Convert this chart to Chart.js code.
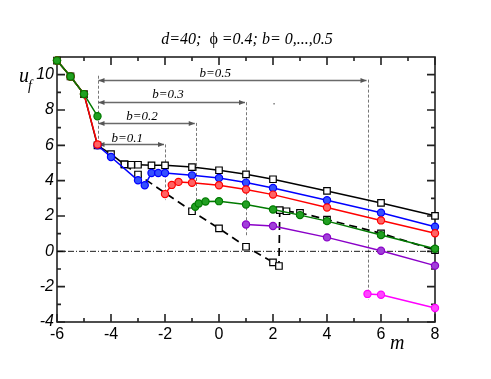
<!doctype html>
<html lang="en">
<head>
<meta charset="UTF-8">
<title>u_f against m</title>
<script src="https://cdn.jsdelivr.net/npm/chart.js"></script>
<style>
  html, body { margin: 0; padding: 0; background: #fff; }
</style>
</head>
<body>
<canvas id="chart" width="491" height="379"></canvas>
<script>
// values: m on x, u_f on y
const blackM = [-6, -5.5, -5, -4.5, -4, -3.5, -3.25, -3, -2.5, -2, -1, 0, 1, 2, 4, 6, 8];
const blackU = [10.8, 9.9, 8.9, 6.0, 5.5, 4.92, 4.9, 4.9, 4.87, 4.87, 4.77, 4.59, 4.36, 4.08, 3.42, 2.74, 2.01];

const dashM = [-3.5, -3, -1, 0, 1, 2, 2.22, 2.25, 2.5, 3, 4, 6, 8];
const dashU = [4.92, 4.35, 2.27, 1.3, 0.26, -0.62, -0.83, 2.33, 2.27, 2.18, 1.8, 1.02, 0.07];

const blueM = [-4.5, -4, -3, -2.75, -2.5, -2.25, -2, -1, 0, 1, 2, 4, 6, 8];
const blueU = [6.0, 5.34, 4.02, 3.74, 4.43, 4.43, 4.43, 4.3, 4.15, 3.89, 3.59, 2.89, 2.18, 1.39];

const redM = [-6, -5.5, -5, -4.5, -3, -2, -1.75, -1.5, -1, 0, 1, 2, 4, 6, 8];
const redU = [10.8, 9.9, 8.9, 6.05, null, 3.24, 3.76, 3.93, 3.88, 3.74, 3.5, 3.21, 2.48, 1.75, 1.02];

const greenM = [-6, -5.5, -5, -4.5, -2, -0.88, -0.75, -0.5, 0, 1, 2, 3, 4, 6, 8];
const greenU = [10.8, 9.9, 8.9, 7.65, null, 2.52, 2.71, 2.82, 2.84, 2.65, 2.37, 2.05, 1.71, 0.92, 0.15];

const purpleM = [1, 2, 4, 6, 8];
const purpleU = [1.52, 1.43, 0.79, 0.03, -0.81];

const magentaM = [5.5, 6, 8];
const magentaU = [-2.41, -2.46, -3.21];

// threshold arrows b=0.1 ... 0.5, all starting from m=-4.5
const bNames = ['b=0.1', 'b=0.2', 'b=0.3', 'b=0.5'];
const bStartM = -4.5;
const bEndM = [-2, -0.86, 1, 5.5];
const bArrowU = [6.05, 7.27, 8.44, 9.72];
const bLabelM = [-3.4, -2.85, -1.89, -0.14];
const bLabelU = [6.4, 7.63, 8.86, 10.07];

// dotted guide lines
const guideM = [-4.5, -2, -0.86, 1, 5.5];
const guideTop = [9.94, 6.05, 7.27, 8.44, 9.72];
const guideBottom = [5.7, 2.9, 2.4, 0.9, -2.75];

const xTicks = [-6, -4, -2, 0, 2, 4, 6, 8];
const xMinor = [-5, -3, -1, 1, 3, 5, 7];
const yTicks = [-4, -2, 0, 2, 4, 6, 8, 10];
const yMinor = [-3, -1, 1, 3, 5, 7, 9];

const pts = (ms, us) => ms.map((m, i) => ({x: m, y: us[i]}));

function circles(label, ms, us, line, fill) {
    return {
        label, data: pts(ms, us),
        borderColor: line, borderWidth: 1.5,
        pointStyle: 'circle', pointRadius: 3.6, pointBorderWidth: 1.2,
        pointBackgroundColor: fill, pointBorderColor: line,
        spanGaps: false, clip: false
    };
}

const datasets = [
    circles('b=0.1 top', greenM.slice(0, 3), greenU.slice(0, 3), '#007a00', '#22a022'),
    circles('red', redM, redU, '#ff0000', '#ff6464'),
    circles('green', greenM, greenU, '#007a00', '#22a022'),
    circles('purple', purpleM, purpleU, '#8a00c8', '#a040d8'),
    circles('magenta', magentaM, magentaU, '#ff00ff', '#ff44ff'),
    circles('blue', blueM, blueU, '#0000ff', '#3450ff'),
    {
        label: 'black', data: pts(blackM, blackU),
        borderColor: '#000', borderWidth: 1.5,
        pointStyle: 'rect', pointRadius: 4.6, pointBorderWidth: 1.2,
        pointBackgroundColor: '#fff', pointBorderColor: '#000', clip: false
    },
    {
        label: 'black dashed', data: pts(dashM, dashU),
        borderColor: '#000', borderWidth: 1.7, borderDash: [8, 5],
        pointStyle: 'rect', pointRadius: 4.6, pointBorderWidth: 1.2,
        pointBackgroundColor: '#fff', pointBorderColor: '#000', clip: false
    },
    {
        label: 'zero', data: pts([-6, 8], [0, 0]),
        borderColor: '#000', borderWidth: 0.9, borderDash: [6, 2, 1, 2],
        pointRadius: 0
    },
    {
        label: 'stray', data: pts([2.04], [8.35]),
        showLine: false, pointStyle: 'rect', pointRadius: 1,
        pointBackgroundColor: '#777', pointBorderColor: '#777', pointBorderWidth: 0
    }
];

function arrowHead(ctx, x, y, dir) {
    ctx.beginPath();
    ctx.moveTo(x, y);
    ctx.lineTo(x - dir * 6, y - 2.5);
    ctx.lineTo(x - dir * 6, y + 2.5);
    ctx.closePath();
    ctx.fill();
}

const decor = {
    id: 'decor',
    beforeDatasetsDraw(chart) {
        const {ctx, chartArea: a, scales: {x, y}} = chart;
        ctx.save();
        // dotted guides
        ctx.strokeStyle = '#777';
        ctx.lineWidth = 1;
        ctx.setLineDash([3, 2]);
        guideM.forEach((m, i) => {
            const px = Math.round(x.getPixelForValue(m)) + 0.5;
            ctx.beginPath();
            ctx.moveTo(px, y.getPixelForValue(guideTop[i]));
            ctx.lineTo(px, y.getPixelForValue(guideBottom[i]));
            ctx.stroke();
        });
        // arrows
        ctx.setLineDash([]);
        ctx.strokeStyle = '#6a6a6a';
        ctx.fillStyle = '#555';
        ctx.lineWidth = 1.3;
        bEndM.forEach((m, i) => {
            const py = Math.round(y.getPixelForValue(bArrowU[i])) + 0.5;
            const x0 = x.getPixelForValue(bStartM) + 1, x1 = x.getPixelForValue(m) - 1;
            ctx.beginPath();
            ctx.moveTo(x0, py);
            ctx.lineTo(x1, py);
            ctx.stroke();
            arrowHead(ctx, x0, py, -1);
            arrowHead(ctx, x1, py, 1);
        });
        // frame and inward ticks on all four sides
        ctx.strokeStyle = '#222';
        ctx.lineWidth = 1.6;
        ctx.strokeRect(a.left, a.top, a.width, a.height);
        ctx.beginPath();
        const xt = (v, len) => {
            const px = x.getPixelForValue(v);
            ctx.moveTo(px, a.bottom); ctx.lineTo(px, a.bottom - len);
            ctx.moveTo(px, a.top); ctx.lineTo(px, a.top + len);
        };
        const yt = (v, len) => {
            const py = y.getPixelForValue(v);
            ctx.moveTo(a.left, py); ctx.lineTo(a.left + len, py);
            ctx.moveTo(a.right, py); ctx.lineTo(a.right - len, py);
        };
        xTicks.forEach(v => xt(v, 8));
        xMinor.forEach(v => xt(v, 4));
        yTicks.forEach(v => yt(v, 8));
        yMinor.forEach(v => yt(v, 4));
        ctx.stroke();
        ctx.restore();
    },
    afterDraw(chart) {
        const {ctx, scales: {x, y}} = chart;
        ctx.save();
        ctx.fillStyle = '#000';
        // title, with an upright phi
        const parts = [
            ['italic 16px "Liberation Serif"', 'd=40;  '],
            ['16px "Liberation Serif"', 'ϕ'],
            ['italic 16px "Liberation Serif"', ' =0.4; b= 0,...,0.5']
        ];
        let w = 0;
        parts.forEach(([f, t]) => { ctx.font = f; w += ctx.measureText(t).width; });
        let tx = 247 - w / 2;
        ctx.textBaseline = 'alphabetic';
        parts.forEach(([f, t]) => {
            ctx.font = f;
            ctx.fillText(t, tx, 44);
            tx += ctx.measureText(t).width;
        });
        // axis names
        ctx.font = 'italic 20px "Liberation Serif"';
        ctx.fillText('u', 19, 82);
        ctx.font = 'italic 14px "Liberation Serif"';
        ctx.fillText('f', 28, 90);
        ctx.font = 'italic 20px "Liberation Serif"';
        ctx.fillText('m', 390, 349);
        // b labels
        ctx.font = 'italic 13px "Liberation Serif"';
        ctx.textAlign = 'center';
        ctx.textBaseline = 'middle';
        bNames.forEach((t, i) => {
            ctx.fillText(t, x.getPixelForValue(bLabelM[i]), y.getPixelForValue(bLabelU[i]));
        });
        ctx.restore();
    }
};

new Chart(document.getElementById('chart'), {
    type: 'line',
    data: {datasets},
    plugins: [decor],
    options: {
        responsive: false,
        animation: false,
        events: [],
        layout: {padding: {left: 0, right: 56, top: 57, bottom: 0}},
        plugins: {legend: {display: false}, tooltip: {enabled: false}},
        scales: {
            x: {
                type: 'linear', min: -6, max: 8,
                afterBuildTicks: s => { s.ticks = xTicks.map(v => ({value: v})); },
                afterFit: s => { s.height = 57; },
                grid: {display: false, drawTicks: false},
                border: {display: false},
                ticks: {
                    padding: 3, color: '#000', maxRotation: 0, autoSkip: false,
                    font: {family: 'Liberation Sans', size: 16}
                }
            },
            y: {
                type: 'linear', min: -4, max: 11,
                afterBuildTicks: s => { s.ticks = yTicks.map(v => ({value: v})); },
                afterFit: s => { s.width = 57; },
                grid: {display: false, drawTicks: false},
                border: {display: false},
                ticks: {
                    padding: 3, color: '#000', autoSkip: false,
                    font: {family: 'Liberation Sans', size: 16, style: 'italic'}
                }
            }
        }
    }
});
</script>
</body>
</html>
